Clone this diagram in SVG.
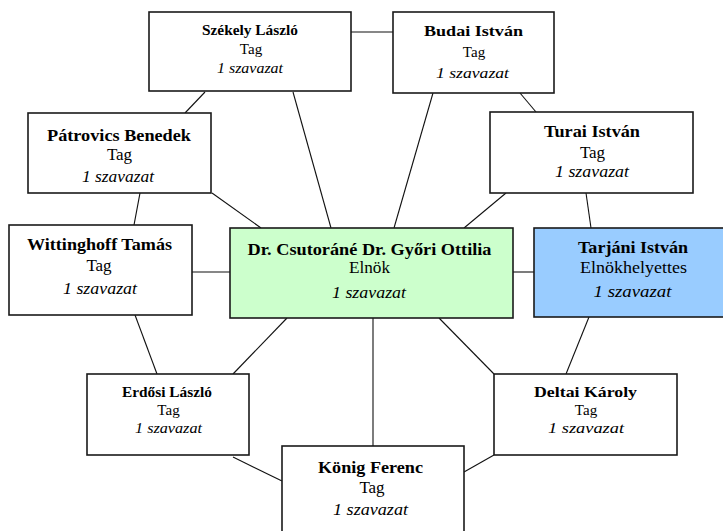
<svg xmlns="http://www.w3.org/2000/svg" width="723" height="531" viewBox="0 0 723 531">
<style>
.box{fill:#ffffff;stroke:#1a1a1a;stroke-width:1.6}
.chair{fill:#ccffcc}
.vice{fill:#99ccff}
.con line{stroke:#111;stroke-width:1.1}
text{font-family:'Liberation Serif','DejaVu Serif',serif;text-anchor:middle;fill:#000}
.n{font-weight:bold}
.i{font-style:italic}
.s{font-size:15px}
.l{font-size:17px}
</style>
<rect width="723" height="531" fill="#ffffff"/>
<g id="connectors" class="con">
<line x1="351" y1="32" x2="393" y2="32"/>
<line x1="205" y1="92" x2="185" y2="113"/>
<line x1="293" y1="92" x2="331" y2="228"/>
<line x1="140" y1="193" x2="134" y2="225"/>
<line x1="212" y1="193" x2="261" y2="228"/>
<line x1="433" y1="93" x2="394" y2="228"/>
<line x1="520" y1="93" x2="536" y2="112"/>
<line x1="506" y1="193" x2="464" y2="228"/>
<line x1="586" y1="193" x2="591" y2="228"/>
<line x1="192" y1="272" x2="230" y2="272"/>
<line x1="513" y1="272" x2="534" y2="272"/>
<line x1="135" y1="315" x2="157" y2="374"/>
<line x1="287" y1="318" x2="233" y2="374"/>
<line x1="373" y1="318" x2="373" y2="446"/>
<line x1="439" y1="318" x2="494" y2="374"/>
<line x1="589" y1="317" x2="566" y2="374"/>
<line x1="233" y1="457" x2="282" y2="481"/>
<line x1="494" y1="455" x2="464" y2="472"/>
</g>
<g font-family="Liberation Serif, DejaVu Serif, serif">
<g id="szekely">
<rect class="box" x="149" y="12" width="202" height="79"/>
<text class="n s" x="250" y="35" textLength="96" lengthAdjust="spacingAndGlyphs">Székely László</text>
<text class="s" x="251" y="54">Tag</text>
<text class="i s" x="250" y="73" textLength="66" lengthAdjust="spacingAndGlyphs">1 szavazat</text>
</g>
<g id="budai">
<rect class="box" x="393" y="12" width="161" height="81"/>
<text class="n s" x="473.5" y="36" textLength="99" lengthAdjust="spacingAndGlyphs">Budai István</text>
<text class="s" x="474" y="57">Tag</text>
<text class="i s" x="472.5" y="78" textLength="73" lengthAdjust="spacingAndGlyphs">1 szavazat</text>
</g>
<g id="patrovics">
<rect class="box" x="28" y="113" width="183" height="80"/>
<text class="n l" x="119" y="141" textLength="144" lengthAdjust="spacingAndGlyphs">Pátrovics Benedek</text>
<text class="l" x="119.5" y="160">Tag</text>
<text class="i l" x="118" y="182" textLength="72" lengthAdjust="spacingAndGlyphs">1 szavazat</text>
</g>
<g id="turai">
<rect class="box" x="490" y="112" width="203" height="81"/>
<text class="n l" x="592" y="137" textLength="96" lengthAdjust="spacingAndGlyphs">Turai István</text>
<text class="l" x="592.5" y="158">Tag</text>
<text class="i l" x="592" y="177" textLength="74" lengthAdjust="spacingAndGlyphs">1 szavazat</text>
</g>
<g id="wittinghoff">
<rect class="box" x="9" y="225" width="183" height="90"/>
<text class="n l" x="99.5" y="250" textLength="145" lengthAdjust="spacingAndGlyphs">Wittinghoff Tamás</text>
<text class="l" x="99" y="271">Tag</text>
<text class="i l" x="100" y="294" textLength="74" lengthAdjust="spacingAndGlyphs">1 szavazat</text>
</g>
<g id="elnok">
<rect class="box chair" x="230" y="228" width="283" height="90"/>
<text class="n l" x="369.5" y="255" textLength="244" lengthAdjust="spacingAndGlyphs">Dr. Csutoráné Dr. Győri Ottilia</text>
<text class="l" x="369.5" y="273" textLength="41" lengthAdjust="spacingAndGlyphs">Elnök</text>
<text class="i l" x="369" y="298" textLength="74" lengthAdjust="spacingAndGlyphs">1 szavazat</text>
</g>
<g id="tarjani">
<rect class="box vice" x="534" y="228" width="200" height="89"/>
<text class="n l" x="633" y="253" textLength="110" lengthAdjust="spacingAndGlyphs">Tarjáni István</text>
<text class="l" x="633.5" y="273" textLength="107" lengthAdjust="spacingAndGlyphs">Elnökhelyettes</text>
<text class="i l" x="632.5" y="297" textLength="78" lengthAdjust="spacingAndGlyphs">1 szavazat</text>
</g>
<g id="erdosi">
<rect class="box" x="87" y="374" width="162" height="81"/>
<text class="n s" x="167" y="397" textLength="90" lengthAdjust="spacingAndGlyphs">Erdősi László</text>
<text class="s" x="168.5" y="415">Tag</text>
<text class="i s" x="168.5" y="433" textLength="67" lengthAdjust="spacingAndGlyphs">1 szavazat</text>
</g>
<g id="deltai">
<rect class="box" x="494" y="374" width="183" height="81"/>
<text class="n s" x="585.5" y="397" textLength="103" lengthAdjust="spacingAndGlyphs">Deltai Károly</text>
<text class="s" x="586" y="415">Tag</text>
<text class="i s" x="586" y="433" textLength="76" lengthAdjust="spacingAndGlyphs">1 szavazat</text>
</g>
<g id="konig">
<rect class="box" x="282" y="446" width="182" height="90"/>
<text class="n l" x="370.5" y="473" textLength="105" lengthAdjust="spacingAndGlyphs">König Ferenc</text>
<text class="l" x="372" y="493">Tag</text>
<text class="i l" x="370.5" y="515" textLength="75" lengthAdjust="spacingAndGlyphs">1 szavazat</text>
</g>
</g>
</svg>
